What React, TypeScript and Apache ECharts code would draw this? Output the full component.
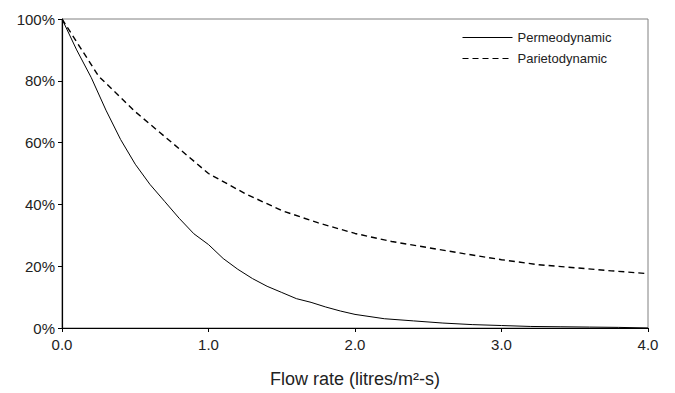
import React, { useEffect, useRef } from "react";
import * as echarts from "echarts";

const permeoFlow = [0, 0.1, 0.2, 0.3, 0.4, 0.5, 0.6, 0.7, 0.8, 0.9, 1.0, 1.1, 1.2, 1.3, 1.4, 1.5, 1.6, 1.7, 1.8, 1.9, 2.0, 2.2, 2.4, 2.6, 2.8, 3.0, 3.2, 3.4, 3.6, 3.8, 4.0];
const permeoValues = [100, 90, 81, 70.5, 61, 53, 46.5, 41, 35.5, 30.5, 27, 22.5, 19, 16, 13.5, 11.5, 9.5, 8.3, 6.8, 5.5, 4.4, 3.0, 2.3, 1.6, 1.1, 0.8, 0.5, 0.4, 0.3, 0.2, 0];

const parietoFlow = [0, 0.25, 0.5, 0.75, 1.0, 1.25, 1.5, 1.75, 2.0, 2.25, 2.5, 2.75, 3.0, 3.25, 3.5, 3.75, 4.0];
const parietoValues = [100, 81.5, 70, 60, 50, 43.5, 38, 34, 30.6, 28, 26, 24, 22.1, 20.5, 19.5, 18.5, 17.6];

const seriesNames = ["Permeodynamic", "Parietodynamic"];
const xAxisTitle = "Flow rate (litres/m²-s)";

export default function App() {
  const ref = useRef<HTMLDivElement>(null);
  useEffect(() => {
    if (!ref.current) return;
    const chart = echarts.init(ref.current, null, { renderer: "svg" });
    const font = "'Liberation Sans', Arial, sans-serif";
    chart.setOption({
      animation: false,
      backgroundColor: "#ffffff",
      textStyle: { fontFamily: font },
      grid: {
        left: 62,
        right: 27,
        top: 19,
        bottom: 61,
        show: true,
        borderColor: "#808080",
        borderWidth: 1,
      },
      legend: {
        orient: "vertical",
        left: 457,
        top: 26,
        itemWidth: 50,
        itemHeight: 10,
        itemGap: 8,
        itemStyle: { opacity: 0 },
        lineStyle: { width: 1 },
        textStyle: { fontSize: 13, color: "#222", fontFamily: font },
        data: seriesNames,
      },
      xAxis: {
        type: "value",
        min: 0,
        max: 4,
        interval: 1,
        name: xAxisTitle,
        nameLocation: "middle",
        nameGap: 42,
        nameTextStyle: { fontSize: 18, color: "#222", fontFamily: font },
        axisLine: { lineStyle: { color: "#000", width: 1.2 } },
        axisTick: { show: true, length: 4, lineStyle: { color: "#000" } },
        axisLabel: {
          fontSize: 15,
          color: "#222",
          margin: 9,
          formatter: (v: number) => v.toFixed(1),
        },
        splitLine: { show: false },
      },
      yAxis: {
        type: "value",
        min: 0,
        max: 100,
        interval: 20,
        axisLine: { show: true, lineStyle: { color: "#000", width: 1.2 } },
        axisTick: { show: true, length: 4, lineStyle: { color: "#000" } },
        axisLabel: { fontSize: 15, color: "#222", margin: 7, formatter: "{value}%" },
        splitLine: { show: false },
      },
      series: [
        {
          name: seriesNames[0],
          type: "line",
          symbol: "none",
          data: permeoFlow.map((x, i) => [x, permeoValues[i]]),
          lineStyle: { color: "#000", width: 1 },
          itemStyle: { color: "#000" },
        },
        {
          name: seriesNames[1],
          type: "line",
          symbol: "none",
          data: parietoFlow.map((x, i) => [x, parietoValues[i]]),
          lineStyle: { color: "#000", width: 1.4, type: [6, 4] },
          itemStyle: { color: "#000" },
        },
      ],
    });
    return () => chart.dispose();
  }, []);
  return (
    <div
      ref={ref}
      style={{ position: "fixed", left: 0, top: 0, width: 675, height: 393 }}
    />
  );
}
